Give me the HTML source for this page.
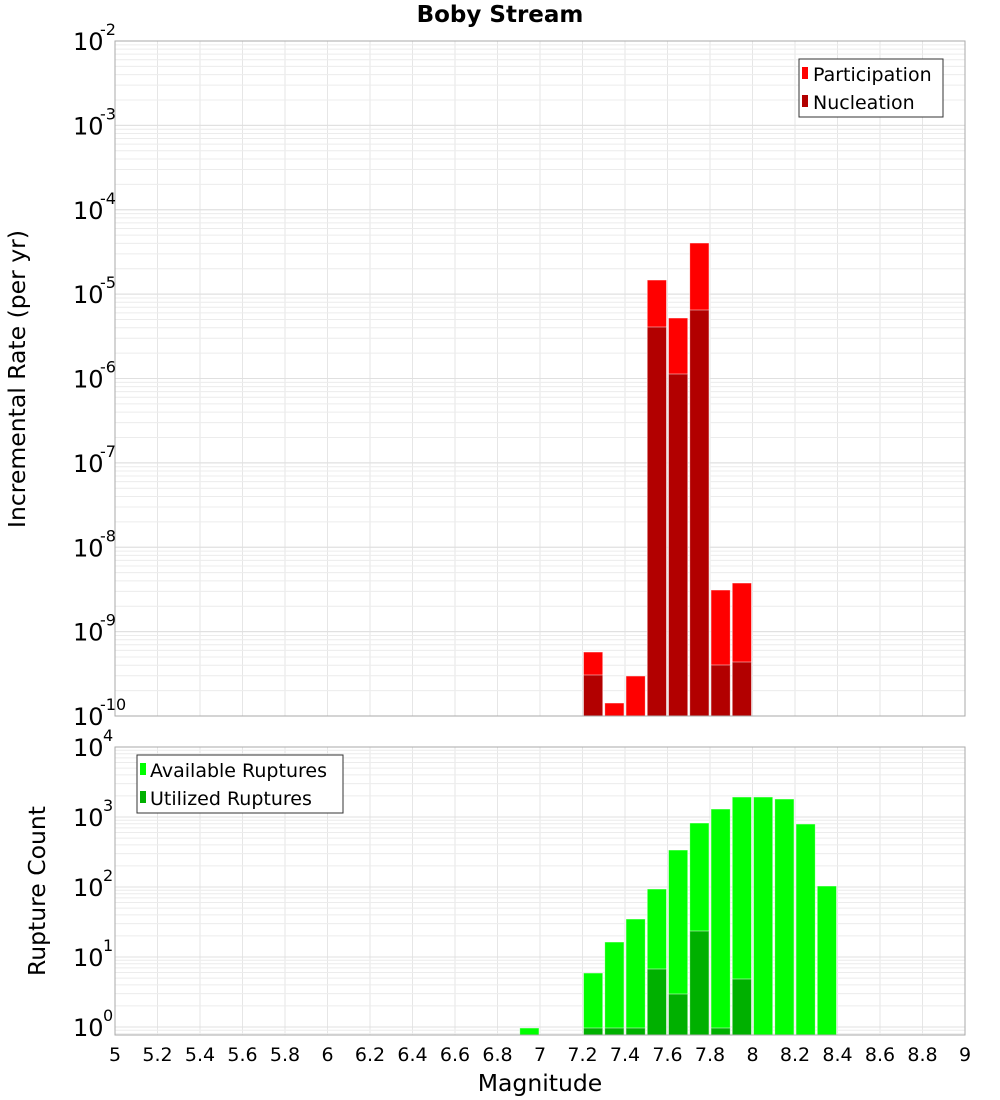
<!DOCTYPE html>
<html><head><meta charset="utf-8"><style>
html,body{margin:0;padding:0;background:#fff;}
svg{display:block;font-family:"DejaVu Sans","Liberation Sans",sans-serif;}
</style></head><body>
<svg id="s" width="1000" height="1100" xmlns="http://www.w3.org/2000/svg">
<rect width="1000" height="1100" fill="#fff"/>
<g id="grid"></g>
<g id="bars"></g>
<rect x="115" y="41" width="850" height="675" fill="none" stroke="#aaa" stroke-width="1"/>
<rect x="115" y="747" width="850" height="288" fill="none" stroke="#aaa" stroke-width="1"/>
<text x="500" y="22" text-anchor="middle" font-size="23" font-weight="bold">Boby Stream</text>
<text transform="translate(25,379) rotate(-90)" text-anchor="middle" font-size="23.5">Incremental Rate (per yr)</text>
<text transform="translate(45,891) rotate(-90)" text-anchor="middle" font-size="23.5">Rupture Count</text>
<text x="540" y="1091" text-anchor="middle" font-size="23.5">Magnitude</text>
<g id="labels" font-size="24"></g>
<g id="xl" font-size="19" text-anchor="middle"></g>
<rect x="799" y="59" width="144" height="58" fill="#fff" stroke="#333"/>
<rect x="802" y="67" width="6" height="12" fill="#ff0000"/>
<text x="813" y="81" font-size="19">Participation</text>
<rect x="802" y="95" width="6" height="12" fill="#b20000"/>
<text x="813" y="109" font-size="19">Nucleation</text>
<rect x="137" y="755" width="206" height="58" fill="#fff" stroke="#333"/>
<rect x="140" y="763" width="6" height="12" fill="#00ff00"/>
<text x="150" y="777" font-size="19">Available Ruptures</text>
<rect x="140" y="791" width="6" height="12" fill="#00b000"/>
<text x="150" y="805" font-size="19">Utilized Ruptures</text>
</svg>
<script>
var NS="http://www.w3.org/2000/svg";
function el(p,t,a,txt){var e=document.createElementNS(NS,t);for(var k in a)e.setAttribute(k,a[k]);if(txt!=null)e.textContent=txt;document.getElementById(p).appendChild(e);return e;}
function X(m){return 115+(m-5)*212.5;}
for(var i=1;i<20;i++){var x=X(5+i*0.2);
 el("grid","line",{x1:x,x2:x,y1:41,y2:716,stroke:"#e6e6e6"});
 el("grid","line",{x1:x,x2:x,y1:747,y2:1035,stroke:"#e6e6e6"});}
var dT=84.375;
for(var d=0;d<8;d++){for(var k=1;k<=10;k++){var y=41+(d+1-Math.log10(k))*dT;if(y<=41||y>=716)continue;
 el("grid","line",{x1:115,x2:965,y1:y,y2:y,stroke:k==1||k==10?"#e0e0e0":"#ececec"});}}
var dB=70;
for(var d=-1;d<4;d++){for(var k=1;k<=10;k++){var y=1027-(d+Math.log10(k))*dB;if(y<=747||y>=1035)continue;
 el("grid","line",{x1:115,x2:965,y1:y,y2:y,stroke:k==1||k==10?"#e0e0e0":"#ececec"});}}
for(var e=-2;e>=-10;e--){var y=41+(-2-e)*dT;
 el("labels","text",{x:73,y:y+9},"10");
 el("labels","text",{x:100,y:y-6,"font-size":"16"},String(e));}
for(var e=4;e>=0;e--){var y=1027-e*dB;
 el("labels","text",{x:73,y:y+9},"10");
 el("labels","text",{x:103,y:y-6,"font-size":"16"},String(e));}
for(var i=0;i<=20;i++){var m=5+i*0.2;var s=(Math.round(m*10)/10).toString();
 el("xl","text",{x:X(m),y:1061},s);}
function bar(m,top,bot,c){var x=X(m)+1;el("bars","rect",{x:x,y:top,width:19.25,height:bot-top,fill:c,stroke:"#fff","stroke-opacity":"0.6","stroke-width":"0.8"});}
var red=[[7.2,652,675],[7.3,703,null],[7.4,676,null],[7.5,280,327],[7.6,318,374],[7.7,243,310],[7.8,590,665],[7.9,583,662]];
red.forEach(function(r){bar(r[0],r[1],716,"#ff0000");if(r[2])bar(r[0],r[2],716,"#b20000");});
var gr=[[6.9,1028,null],[7.2,973,1028],[7.3,942,1028],[7.4,919,1028],[7.5,889,969],[7.6,850,994],[7.7,823,931],[7.8,809,1028],[7.9,797,979],[8.0,797,null],[8.1,799,null],[8.2,824,null],[8.3,886,null]];
gr.forEach(function(r){bar(r[0],r[1],1035,"#00ff00");if(r[2])bar(r[0],r[2],1035,"#00b000");});
</script>
</body></html>
